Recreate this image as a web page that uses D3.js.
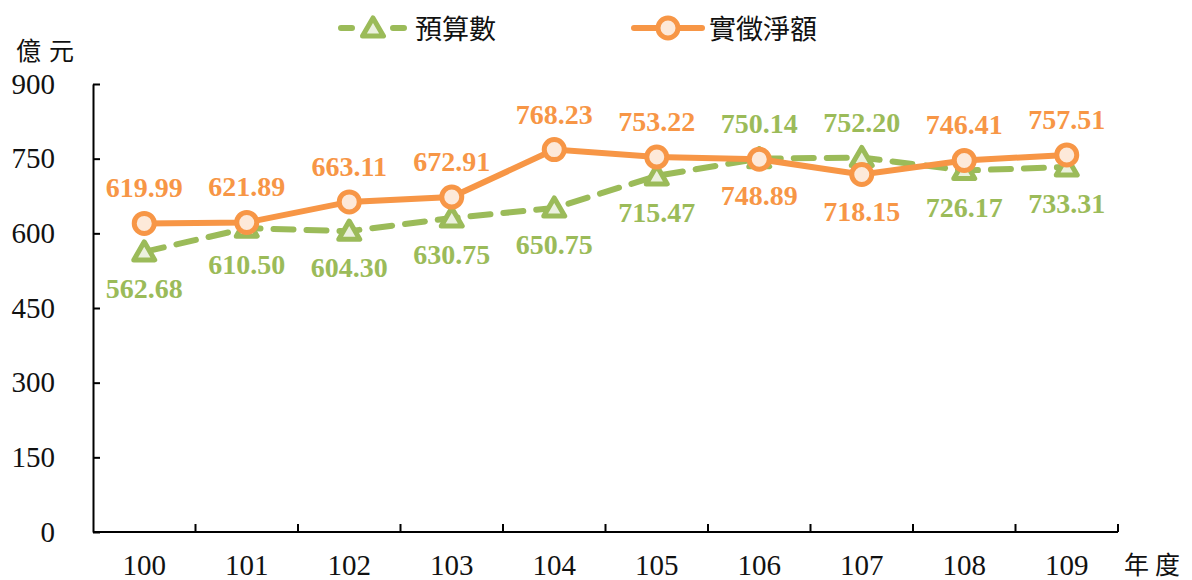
<!DOCTYPE html>
<html>
<head>
<meta charset="utf-8">
<script src="https://cdn.jsdelivr.net/npm/d3@7"></script>
<style>
  body { margin: 0; background: #fff; }
  svg { display: block; }
</style>
</head>
<body>
<div id="chart"></div>
<script>
// Chart data
const years = ["100", "101", "102", "103", "104", "105", "106", "107", "108", "109"];
const budget = [562.68, 610.50, 604.30, 630.75, 650.75, 715.47, 750.14, 752.20, 726.17, 733.31];
const actual = [619.99, 621.89, 663.11, 672.91, 768.23, 753.22, 748.89, 718.15, 746.41, 757.51];
const yTicks = [0, 150, 300, 450, 600, 750, 900];
// which labels go below (true) / above (false)
const budgetBelow = [true, true, true, true, true, true, false, false, true, true];
const actualBelow = [false, false, false, false, false, false, true, true, false, false];

const orange = "#F79646";
const orangeFill = "#FDE9D9";
const green = "#9BBB59";
const greenFill = "#EBF1DE";
const serif = "'Liberation Serif', 'Times New Roman', serif";
const cjk = "'Noto Sans CJK TC', 'Noto Sans CJK SC', sans-serif";

const width = 1192, height = 580;
const plot = {left: 93, right: 1118, top: 84, bottom: 532};

const svg = d3.select("#chart")
    .append("svg")
    .attr("width", width)
    .attr("height", height);

// Scales
const xScale = d3.scaleBand().domain(years).range([plot.left, plot.right]);
const yScale = d3.scaleLinear().domain([0, 900]).range([plot.bottom, plot.top]);
const cx = d => xScale(d) + xScale.bandwidth() / 2;

// Y axis
const yAxis = svg.append("g")
    .attr("transform", "translate(" + plot.left + ",0)")
    .call(d3.axisLeft(yScale).tickValues(yTicks).tickSize(-7).tickPadding(38).tickSizeOuter(0));
yAxis.select(".domain").attr("stroke", "#000").attr("stroke-width", 2);
yAxis.selectAll(".tick line").attr("stroke", "#000").attr("stroke-width", 2);
yAxis.selectAll(".tick text")
    .attr("font-family", serif)
    .attr("font-size", 29)
    .attr("fill", "#111");

// X axis
svg.append("line")
    .attr("x1", plot.left).attr("x2", plot.right)
    .attr("y1", plot.bottom).attr("y2", plot.bottom)
    .attr("stroke", "#000").attr("stroke-width", 2);
const bounds = years.map(d => xScale(d)).concat([plot.right]).slice(1);
svg.selectAll(".xtick").data(bounds).enter()
    .append("line")
    .attr("class", "xtick")
    .attr("x1", d => d).attr("x2", d => d)
    .attr("y1", plot.bottom).attr("y2", plot.bottom - 8)
    .attr("stroke", "#000").attr("stroke-width", 2);
svg.selectAll(".xlabel").data(years).enter()
    .append("text")
    .attr("class", "xlabel")
    .attr("x", d => cx(d))
    .attr("y", 575)
    .attr("text-anchor", "middle")
    .attr("font-family", serif)
    .attr("font-size", 29)
    .attr("fill", "#111")
    .text(d => d);

// Axis titles
svg.append("text")
    .attr("x", 16).attr("y", 60)
    .attr("font-family", cjk)
    .attr("font-size", 25)
    .attr("letter-spacing", 8)
    .attr("fill", "#111")
    .text("億元");
svg.append("text")
    .attr("x", 1124).attr("y", 574)
    .attr("font-family", cjk)
    .attr("font-size", 25)
    .attr("letter-spacing", 6)
    .attr("fill", "#111")
    .text("年度");

// Lines
const budgetData = years.map((d, i) => ({year: d, value: budget[i], below: budgetBelow[i]}));
const actualData = years.map((d, i) => ({year: d, value: actual[i], below: actualBelow[i]}));

const line = d3.line()
    .x(d => cx(d.year))
    .y(d => yScale(d.value));

svg.append("path")
    .datum(budgetData)
    .attr("d", line)
    .attr("fill", "none")
    .attr("stroke", green)
    .attr("stroke-width", 6)
    .attr("stroke-dasharray", "20,13")
    .attr("stroke-linecap", "round");

const tri = d3.symbol().type(d3.symbolTriangle).size(190);
svg.selectAll(".tri").data(budgetData).enter()
    .append("path")
    .attr("class", "tri")
    .attr("d", tri)
    .attr("transform", d => "translate(" + cx(d.year) + "," + (yScale(d.value) + 2) + ")")
    .attr("fill", greenFill)
    .attr("stroke", green)
    .attr("stroke-width", 5)
    .attr("stroke-linejoin", "round");

svg.append("path")
    .datum(actualData)
    .attr("d", line)
    .attr("fill", "none")
    .attr("stroke", orange)
    .attr("stroke-width", 6);

svg.selectAll(".dot").data(actualData).enter()
    .append("circle")
    .attr("class", "dot")
    .attr("cx", d => cx(d.year))
    .attr("cy", d => yScale(d.value))
    .attr("r", 10)
    .attr("fill", orangeFill)
    .attr("stroke", orange)
    .attr("stroke-width", 5);

// Data labels
function addLabels(data, color, cls) {
    svg.selectAll("." + cls).data(data).enter()
        .append("text")
        .attr("class", cls)
        .attr("x", d => cx(d.year))
        .attr("y", d => yScale(d.value) + (d.below ? 46 : -26))
        .attr("text-anchor", "middle")
        .attr("font-family", serif)
        .attr("font-weight", "bold")
        .attr("font-size", 28)
        .attr("fill", color)
        .text(d => d.value.toFixed(2));
}
addLabels(budgetData, green, "blabel");
addLabels(actualData, orange, "alabel");

// Legend
const legend = svg.append("g");
legend.append("line")
    .attr("x1", 341).attr("x2", 404).attr("y1", 28).attr("y2", 28)
    .attr("stroke", green).attr("stroke-width", 6)
    .attr("stroke-dasharray", "11,41").attr("stroke-linecap", "round");
legend.append("path")
    .attr("d", tri)
    .attr("transform", "translate(373,30)")
    .attr("fill", greenFill).attr("stroke", green)
    .attr("stroke-width", 5).attr("stroke-linejoin", "round");
legend.append("text")
    .attr("x", 415).attr("y", 39)
    .attr("font-family", cjk).attr("font-size", 27)
    .attr("fill", "#111")
    .text("預算數");
legend.append("line")
    .attr("x1", 634).attr("x2", 702).attr("y1", 28).attr("y2", 28)
    .attr("stroke", orange).attr("stroke-width", 6)
    .attr("stroke-linecap", "round");
legend.append("circle")
    .attr("cx", 668).attr("cy", 28).attr("r", 10)
    .attr("fill", orangeFill).attr("stroke", orange).attr("stroke-width", 5);
legend.append("text")
    .attr("x", 709).attr("y", 39)
    .attr("font-family", cjk).attr("font-size", 27)
    .attr("fill", "#111")
    .text("實徵淨額");
</script>
</body>
</html>
